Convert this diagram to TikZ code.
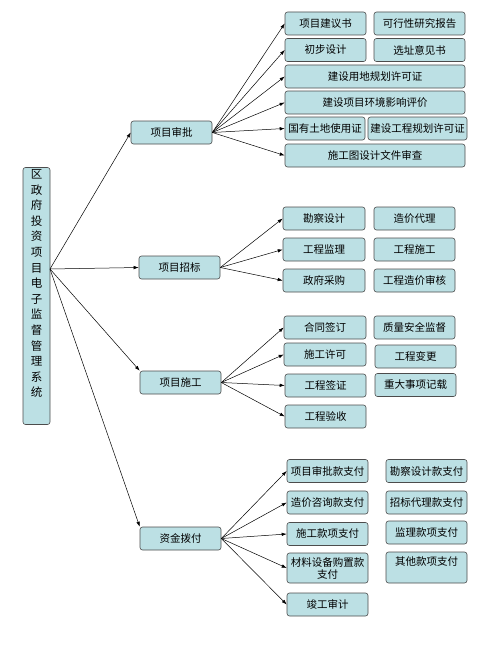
\documentclass[tikz,border=0pt]{standalone}
\usepackage{fontspec}
\setmainfont{Noto Sans CJK SC}
\usetikzlibrary{arrows.meta,positioning}
\definecolor{boxfill}{RGB}{188,224,228}
\tikzset{
    box/.style={
        draw=black!70,
        line width=0.6pt,
        fill=boxfill,
        rounded corners=2.5pt,
        inner sep=1pt,
        minimum width=81pt,
        minimum height=23pt,
        align=center,
        font=\fontsize{10.5}{12}\selectfont
    },
    widebox/.style={box, minimum width=180pt},
    link/.style={
        -{Latex[length=5pt,width=3.5pt]},
        line width=0.5pt
    }
}

\begin{document}
\begin{tikzpicture}[x=1pt,y=-1pt]
    \useasboundingbox (0,0) rectangle (498,661);
    % root
    \node[box, minimum width=27pt, minimum height=257pt, font=\fontsize{11.5}{15.6}\selectfont]
        (root) at (36.5,296) {区\\政\\府\\投\\资\\项\\目\\电\\子\\监\\督\\管\\理\\系\\统\\[10pt]};
    \coordinate (hub) at (50,269);
    % second level
    \node[box] (shenpi) at (171.5,132.5) {项目审批};
    \node[box] (zhaobiao) at (179.5,267.5) {项目招标};
    \node[box] (shigong) at (180.5,382.5) {项目施工};
    \node[box] (zijin) at (180.5,538.5) {资金拨付};
    % approval
    \node[box] (a1) at (325.5,23.5) {项目建议书};
    \node[box, minimum width=91pt] (a2) at (419.5,23.5) {可行性研究报告};
    \node[box] (a3) at (325.5,50) {初步设计};
    \node[box, minimum width=91pt] (a4) at (419.5,50) {选址意见书};
    \node[widebox] (a5) at (375,76.5) {建设用地规划许可证};
    \node[widebox] (a6) at (375,102.5) {建设项目环境影响评价};
    \node[box, minimum width=80pt] (a7) at (325,128.5) {国有土地使用证};
    \node[box, minimum width=99pt] (a8) at (417.5,128.5) {建设工程规划许可证};
    \node[widebox] (a9) at (375,155.5) {施工图设计文件审查};
    % tender
    \node[box, minimum width=82pt] (b1) at (324,218.5) {勘察设计};
    \node[box] (b2) at (414.5,218.5) {造价代理};
    \node[box, minimum width=82pt] (b3) at (324,249.5) {工程监理};
    \node[box] (b4) at (414.5,249.5) {工程施工};
    \node[box, minimum width=82pt] (b5) at (324,280.5) {政府采购};
    \node[box] (b6) at (414.5,280.5) {工程造价审核};
    % construction
    \node[box, minimum width=82pt] (c1) at (325,327.5) {合同签订};
    \node[box] (c2) at (414.5,327.5) {质量安全监督};
    \node[box, minimum width=82pt] (c3) at (325,354.5) {施工许可};
    \node[box] (c4) at (415.5,356.5) {工程变更};
    \node[box] (c5) at (325.5,385.5) {工程签证};
    \node[box] (c6) at (415.5,385) {重大事项记载};
    \node[box] (c7) at (325.5,416.5) {工程验收};
    % funds
    \node[box] (d1) at (327.5,471) {项目审批款支付};
    \node[box] (d2) at (426.5,471) {勘察设计款支付};
    \node[box] (d3) at (327.5,502.5) {造价咨询款支付};
    \node[box] (d4) at (426.5,502.5) {招标代理款支付};
    \node[box] (d5) at (327.5,534) {施工款项支付};
    \node[box] (d6) at (426.5,532.5) {监理款项支付};
    \node[box, minimum height=30pt] (d7) at (327.5,568) {材料设备购置款\\支付};
    \node[box, minimum height=31pt] (d8) at (426.5,567.5) {其他款项支付\\~};
    \node[box] (d9) at (327.5,604.5) {竣工审计};
    % links
    \draw[link] (hub) -- (shenpi.west);
    \draw[link] (hub) -- (zhaobiao.west);
    \draw[link] (hub) -- (shigong.north west);
    \draw[link] (hub) -- (zijin.north west);
    \foreach \n in {a1,a3,a5,a6,a7,a9}
        \draw[link] (shenpi.east) -- (\n.west);
    \foreach \n in {b1,b3,b5}
        \draw[link] (zhaobiao.east) -- (\n.west);
    \foreach \n in {c1,c3,c5,c7}
        \draw[link] (shigong.east) -- (\n.west);
    \foreach \n in {d1,d3,d5,d7,d9}
        \draw[link] (zijin.east) -- (\n.west);
\end{tikzpicture}
\end{document}
